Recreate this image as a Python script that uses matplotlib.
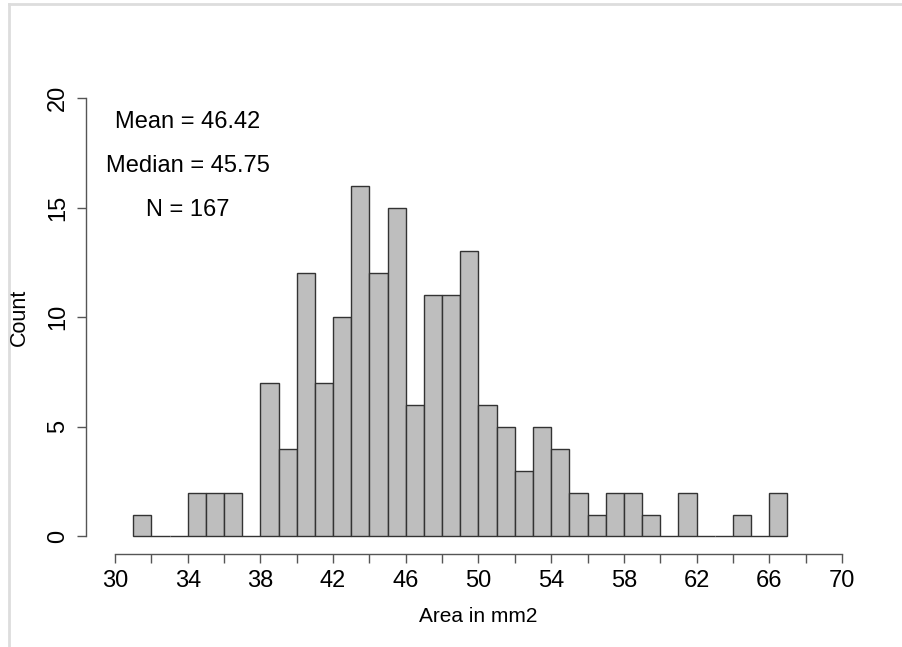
import numpy as np
import matplotlib
matplotlib.use("Agg")
import matplotlib.pyplot as plt
from matplotlib.lines import Line2D

plt.rcParams['font.family'] = ['Liberation Sans', 'DejaVu Sans']

# histogram of area, 1 mm2 bins from 31 to 67
bin_edges = list(range(31, 68))
counts = [1, 0, 0, 2, 2, 2, 0, 7, 4, 12, 7, 10, 16, 12, 15, 6, 11, 11, 13,
          6, 5, 3, 5, 4, 2, 1, 2, 2, 1, 0, 2, 0, 0, 1, 0, 2]
x_ticks = list(range(30, 71, 2))
x_labels = [str(t) if (t - 30) % 4 == 0 else "" for t in x_ticks]
y_ticks = [0, 5, 10, 15, 20]
stats_lines = ["Mean = 46.42", "Median = 45.75", "N = 167"]
stats_y = [19, 17, 15]

fig = plt.figure(figsize=(9.03, 6.47), dpi=100)
ax = fig.add_axes([0.0952, 0.1437, 0.8694, 0.7319])

left = np.array(bin_edges[:-1])
widths = np.diff(bin_edges)
ax.bar(left, counts, width=widths, align='edge', color='#bebebe',
       edgecolor='#333333', linewidth=1.0)

ax.set_xlim(28.4, 71.6)
ax.set_ylim(-0.8, 20.8)

for s in ['top', 'right']:
    ax.spines[s].set_visible(False)
ax.spines['left'].set_bounds(0, 20)
ax.spines['bottom'].set_bounds(30, 70)
for s in ['left', 'bottom']:
    ax.spines[s].set_color('#555555')
    ax.spines[s].set_linewidth(1.0)

ax.set_xticks(x_ticks)
ax.set_xticklabels(x_labels)
ax.set_yticks(y_ticks)
ax.set_yticklabels([str(t) for t in y_ticks], rotation=90, va='center')
ax.tick_params(axis='both', direction='out', length=6.5, width=1.0,
               color='#555555', labelsize=17)
ax.tick_params(axis='x', pad=5)
ax.tick_params(axis='y', pad=5.5)

ax.set_xlabel('Area in mm2', fontsize=15, labelpad=11)
fig.text(19 / 903, 0.5 * (0.1437 + 0.8756), 'Count', rotation=90,
         ha='center', va='center', fontsize=15.5)

for txt, yy in zip(stats_lines, stats_y):
    ax.text(34, yy, txt, ha='center', va='center_baseline', fontsize=17)

# thin grey frame on the left and top edges
fig.add_artist(Line2D([9 / 903, 9 / 903], [0, 1 - 4 / 647],
                      transform=fig.transFigure, color='#dddddd', lw=2))
fig.add_artist(Line2D([9 / 903, 1], [1 - 4 / 647, 1 - 4 / 647],
                      transform=fig.transFigure, color='#dddddd', lw=2))

fig.savefig('out.png', dpi=100)
